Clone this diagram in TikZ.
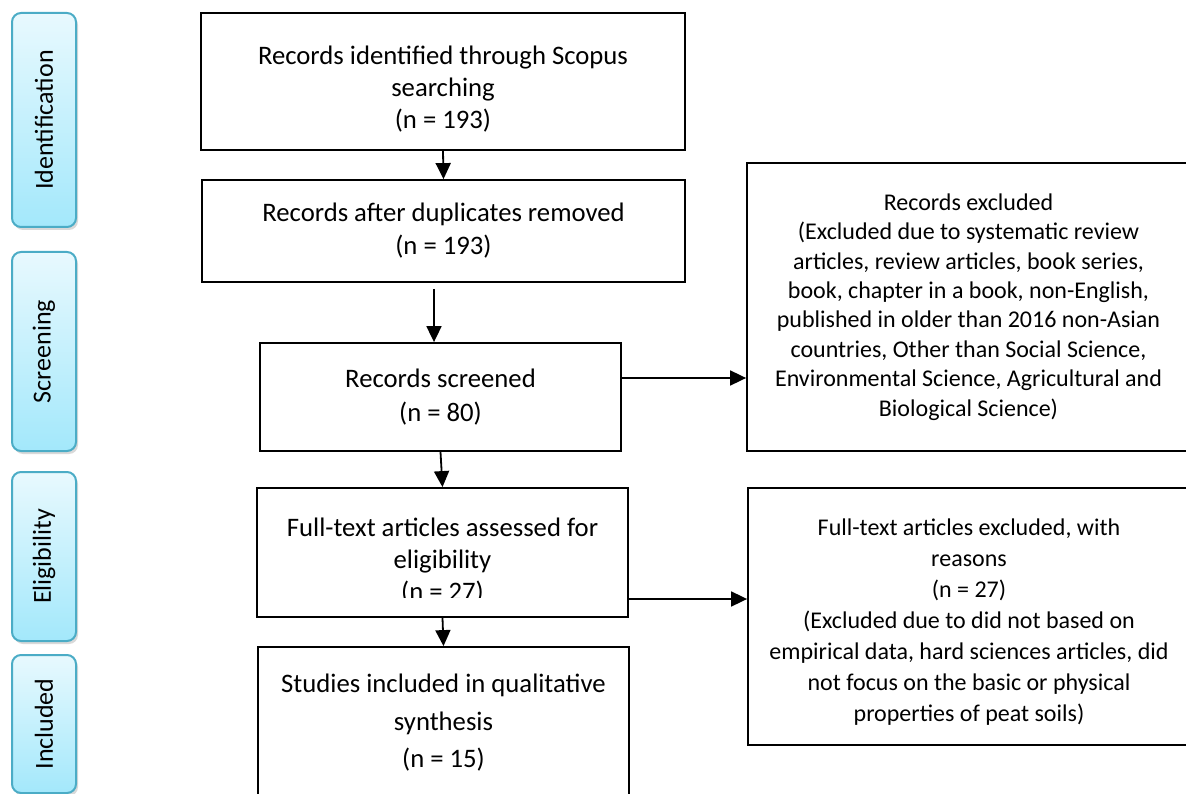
\documentclass[tikz,border=0pt]{standalone}
\usepackage{fontspec}
\setmainfont{Carlito}
\usetikzlibrary{arrows.meta,shadows}
\definecolor{sideborder}{HTML}{4BACC6}
\definecolor{sideL}{HTML}{E8F9FE}
\definecolor{sideR}{HTML}{A3E8FB}
\begin{document}
\begin{tikzpicture}[x=1pt,y=-1pt,
  box/.style={draw=black, line width=1.8pt, inner sep=0pt, align=center,
    font=\fontsize{26.7}{32}\selectfont},
  boxtext/.style={align=center, inner sep=0pt, font=\fontsize{26.7}{32}\selectfont},
  sidebox/.style={draw=sideborder, line width=2pt, rounded corners=9pt,
    top color=sideL, bottom color=sideR, minimum height=64pt, inner sep=0pt,
    font=\fontsize{26}{32}\selectfont, rotate=90,
    drop shadow={shadow xshift=2pt, shadow yshift=-3pt, opacity=0.25, fill=black!60}},
  arr/.style={line width=1.8pt, -{Triangle[length=16pt,width=15pt]}}
]
\useasboundingbox (0,0) rectangle (1186,794);
\clip (0,0) rectangle (1186,794);

% phase labels
\node[sidebox, minimum width=214pt] (sid) at (44,120) {Identification};
\node[sidebox, minimum width=199pt] (ssc) at (44,351.5) {Screening};
\node[sidebox, minimum width=169pt] (sel) at (44,556.5) {Eligibility};
\node[sidebox, minimum width=138pt] (sin) at (44,724) {Included};

% main column
\node[box, minimum width=484pt, minimum height=137pt] (b1) at (443,81.5) {};
\node[boxtext] (b1t) at (443,89)
  {Records identified through Scopus\\searching\\(n = 193)};
\node[box, minimum width=483pt, minimum height=102pt, font=\fontsize{26.7}{33}\selectfont] (b2) at (443.5,231)
  {Records after duplicates removed\\(n = 193)};
\node[box, minimum width=361pt, minimum height=108pt, font=\fontsize{26.7}{34}\selectfont] (b3) at (440.5,397)
  {Records screened\\(n = 80)};
\node[box, minimum width=371pt, minimum height=129pt] (b4) at (442.5,552.5) {};
\begin{scope}
  \clip (257,488) rectangle (628,597);
  \node[boxtext] (b4t) at (442.5,561)
    {Full-text articles assessed for\\eligibility\\(n = 27)};
\end{scope}
\node[box, minimum width=371pt, minimum height=152pt, font=\fontsize{26.7}{37.5}\selectfont] (b5) at (443.5,723)
  {Studies included in qualitative\\synthesis\\(n = 15)};

% right column
\node[box, minimum width=443pt, minimum height=288pt, font=\fontsize{24}{29.4}\selectfont] (r1) at (968.5,307)
  {Records excluded\\(Excluded due to systematic review\\articles, review articles, book series,\\book, chapter in a book, non-English,\\published in older than 2016 non-Asian\\countries, Other than Social Science,\\Environmental Science, Agricultural and\\Biological Science)};
\node[box, minimum width=442pt, minimum height=257pt] (r2) at (969,616.5) {};
\node[align=center, inner sep=0pt, font=\fontsize{24}{31}\selectfont] (r2t) at (969,622)
  {Full-text articles excluded, with\\reasons\\(n = 27)\\(Excluded due to did not based on\\empirical data, hard sciences articles, did\\not focus on the basic or physical\\properties of peat soils)};

% connectors
\coordinate (a2s) at (434,289);
\draw[arr] (b1.south) -- (b2.north);
\draw[arr] (a2s) -- (a2s |- b3.north);
\draw[arr] (b3.south) -- (b4.north);
\draw[arr] (b4.south) -- (b5.north);
\draw[arr] ([yshift=19pt]b3.east) -- ([yshift=19pt]b3.east -| r1.west);
\draw[arr] ([yshift=-46.5pt]b4.east) -- ([yshift=-46.5pt]b4.east -| r2.west);
\end{tikzpicture}
\end{document}
